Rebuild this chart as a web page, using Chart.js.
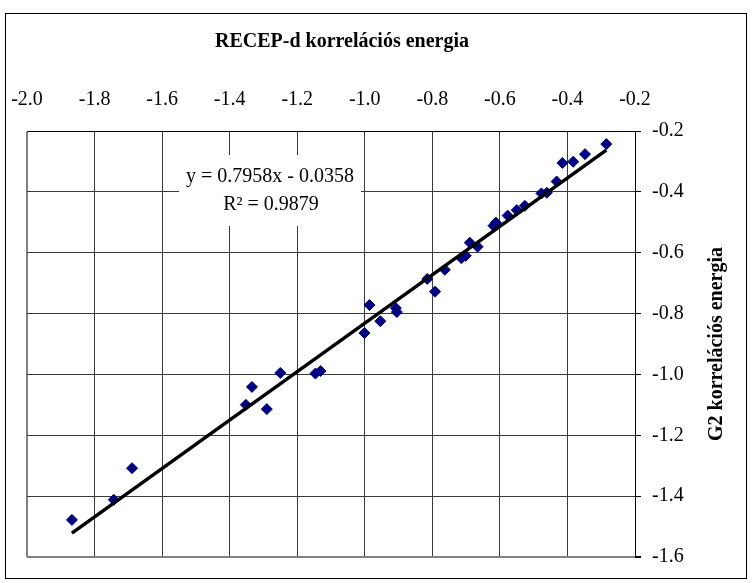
<!DOCTYPE html>
<html>
<head>
<meta charset="utf-8">
<script src="https://cdn.jsdelivr.net/npm/chart.js@4/dist/chart.umd.min.js"></script>
<style>
  html, body { margin: 0; padding: 0; background: #fff; }
  #wrap { width: 752px; height: 583px; position: relative; }
  #chart { display: block; }
</style>
</head>
<body>
<div id="wrap"><canvas id="chart" width="752" height="583"></canvas></div>
<script>
(function () {
  'use strict';

  // RECEP-d vs G2 correlation energies
  const recepX = [-1.867, -1.743, -1.689, -1.352, -1.334, -1.290, -1.250, -1.146, -1.131,
                  -1.001, -0.986, -0.954, -0.908, -0.905, -0.815, -0.792, -0.763, -0.714,
                  -0.701, -0.689, -0.666, -0.619, -0.612, -0.577, -0.550, -0.526, -0.477,
                  -0.461, -0.432, -0.415, -0.383, -0.348, -0.285];
  const g2Y    = [-1.478, -1.412, -1.308, -1.100, -1.041, -1.114, -0.995, -0.997, -0.989,
                  -0.864, -0.772, -0.825, -0.782, -0.795, -0.686, -0.728, -0.656, -0.618,
                  -0.610, -0.567, -0.580, -0.511, -0.501, -0.478, -0.460, -0.446, -0.405,
                  -0.403, -0.366, -0.305, -0.301, -0.276, -0.243];

  const xTicks = [-2.0, -1.8, -1.6, -1.4, -1.2, -1.0, -0.8, -0.6, -0.4, -0.2];
  const yTicks = [-1.6, -1.4, -1.2, -1.0, -0.8, -0.6, -0.4, -0.2];

  const slope = 0.7958, intercept = -0.0358, rSquared = 0.9879;

  const xTitle = 'RECEP-d korrelációs energia';
  const yTitle = 'G2 korrelációs energia';

  const FONT = '"Liberation Serif", "Times New Roman", serif';

  const points = recepX.map((x, i) => ({ x: x, y: g2Y[i] }));
  const xMin = Math.min(...recepX), xMax = Math.max(...recepX);
  const trend = [xMin, xMax].map(x => ({ x: x, y: slope * x + intercept }));

  const fmt = v => v.toFixed(1);

  // frame, titles and the trendline label (Excel-style)
  const decorPlugin = {
    id: 'decor',
    beforeDatasetsDraw(ci) {
      const { ctx } = ci;
      ctx.save();
      ctx.fillStyle = '#fff';
      ctx.fillRect(179, 155, 182, 71);
      ctx.fillStyle = '#000';
      ctx.font = '20px ' + FONT;
      ctx.textAlign = 'center';
      ctx.textBaseline = 'middle';
      ctx.fillText('y = ' + slope.toFixed(4) + 'x - ' + Math.abs(intercept).toFixed(4), 270, 177);
      ctx.fillText('R\u00B2 = ' + rSquared.toFixed(4), 271, 205);
      ctx.restore();
    },
    afterDraw(ci) {
      const { ctx, chartArea } = ci;
      ctx.save();
      ctx.strokeStyle = '#000';
      ctx.lineWidth = 1;
      ctx.strokeRect(5.5, 13.5, 741, 565);

      ctx.fillStyle = '#000';
      ctx.font = 'bold 20px ' + FONT;
      ctx.textAlign = 'center';
      ctx.textBaseline = 'middle';
      ctx.fillText(xTitle, 342, 42);

      ctx.translate(717, (chartArea.top + chartArea.bottom) / 2);
      ctx.rotate(-Math.PI / 2);
      ctx.fillText(yTitle, 0, 0);
      ctx.restore();
    }
  };

  const edgeX = xTicks[0], edgeY = yTicks[0];

  new Chart(document.getElementById('chart').getContext('2d'), {
    type: 'scatter',
    data: {
      datasets: [
        {
          type: 'line',
          label: 'Trend',
          data: trend,
          borderColor: '#000',
          borderWidth: 3.5,
          pointRadius: 0,
          fill: false
        },
        {
          label: 'G2',
          data: points,
          pointStyle: 'rectRot',
          pointRadius: 5.5,
          backgroundColor: '#000080',
          borderColor: '#000080',
          borderWidth: 1
        }
      ]
    },
    options: {
      responsive: false,
      animation: false,
      devicePixelRatio: 1,
      layout: { padding: { left: 27, right: 0, top: 0, bottom: 26 } },
      scales: {
        x: {
          type: 'linear',
          position: 'top',
          min: xTicks[0],
          max: xTicks[xTicks.length - 1],
          afterBuildTicks: s => { s.ticks = xTicks.map(v => ({ value: v })); },
          afterFit: s => { s.height = 131; s.paddingLeft = 0; s.paddingRight = 0; },
          grid: {
            drawTicks: false,
            color: c => (c.tick && c.tick.value === edgeX) ? '#808080' : '#3a3a3a',
            lineWidth: c => (c.tick && c.tick.value === edgeX) ? 2 : 1
          },
          border: { display: true, color: '#000', width: 1 },
          ticks: {
            color: '#000',
            padding: 19,
            maxRotation: 0,
            autoSkip: false,
            font: { family: FONT, size: 20 },
            callback: v => fmt(v)
          }
        },
        y: {
          type: 'linear',
          position: 'right',
          min: yTicks[0],
          max: yTicks[yTicks.length - 1],
          afterBuildTicks: s => { s.ticks = yTicks.map(v => ({ value: v })); },
          afterFit: s => { s.width = 117; s.paddingTop = 0; s.paddingBottom = 0; },
          grid: {
            drawTicks: true,
            tickLength: 6,
            tickColor: '#000',
            color: c => (c.tick && c.tick.value === edgeY) ? '#808080' : '#3a3a3a',
            lineWidth: c => (c.tick && c.tick.value === edgeY) ? 2 : 1
          },
          border: { display: true, color: '#000', width: 1 },
          ticks: {
            color: '#000',
            padding: 11,
            autoSkip: false,
            font: { family: FONT, size: 20 },
            callback: v => fmt(v)
          }
        }
      },
      plugins: {
        legend: { display: false },
        tooltip: { enabled: false },
        title: { display: false }
      }
    },
    plugins: [decorPlugin]
  });
})();
</script>
</body>
</html>
